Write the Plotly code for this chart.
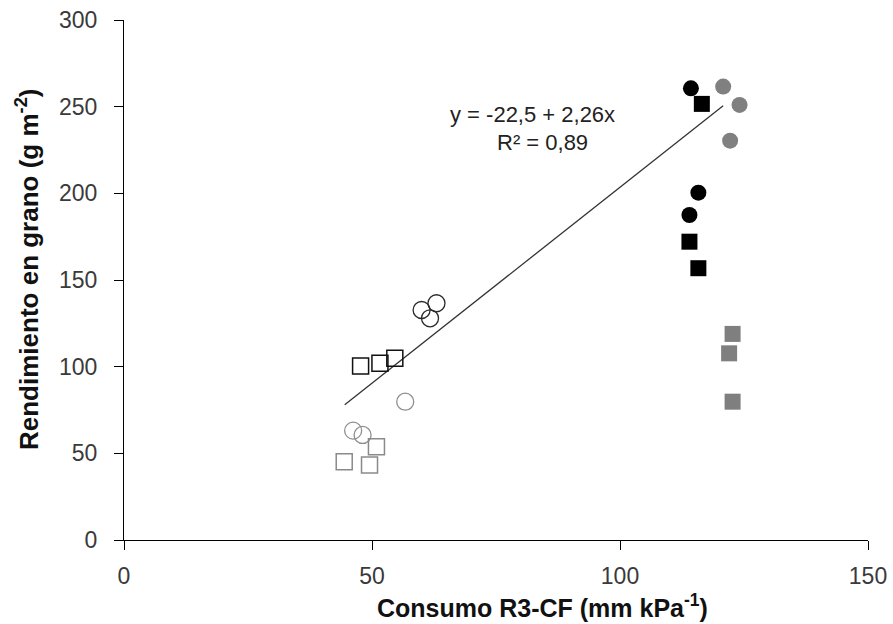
import plotly.graph_objects as go

# Consumo R3-CF (mm kPa-1) and grain yield (g m-2) by treatment group
open_black_circle_x = [60.0, 63.0, 61.7]
open_black_circle_y = [132.7, 136.6, 127.9]
open_black_square_x = [47.7, 51.6, 54.6]
open_black_square_y = [100.4, 102.0, 104.8]
open_gray_circle_x = [56.7, 46.2, 48.1]
open_gray_circle_y = [79.8, 63.1, 60.6]
open_gray_square_x = [50.9, 44.4, 49.5]
open_gray_square_y = [53.8, 45.2, 43.3]
black_circle_x = [114.3, 115.8, 114.0]
black_circle_y = [260.6, 200.4, 187.5]
black_square_x = [116.5, 114.0, 115.8]
black_square_y = [251.6, 172.1, 156.8]
gray_circle_x = [120.8, 124.1, 122.2]
gray_circle_y = [261.6, 251.0, 230.4]
gray_square_x = [122.7, 122.0, 122.7]
gray_square_y = [118.9, 107.7, 79.8]

# Linear fit y = a + b x over the observed range
fit_a, fit_b = -22.5, 2.26
fit_x = [44.5, 120.8]
fit_y = [fit_a + fit_b * v for v in fit_x]

x_ticks = [0, 50, 100, 150]
y_ticks = [0, 50, 100, 150, 200, 250, 300]

FONT = "Liberation Sans, Arial, sans-serif"
W, H = 893, 624
ML, MR, MT, MB = 124, 25, 20, 84

fig = go.Figure()


def add_group(xs, ys, symbol, size, fill, line_color, line_width):
    fig.add_trace(go.Scatter(
        x=xs, y=ys, mode="markers",
        marker=dict(symbol=symbol, size=size, color=fill,
                    line=dict(color=line_color, width=line_width)),
        showlegend=False, hoverinfo="x+y",
    ))


fig.add_trace(go.Scatter(x=fit_x, y=fit_y, mode="lines",
                         line=dict(color="#333333", width=1.3),
                         showlegend=False, hoverinfo="skip"))

add_group(open_black_circle_x, open_black_circle_y, "circle-open", 17, "#2a2a2a", "#2a2a2a", 1.3)
add_group(open_black_square_x, open_black_square_y, "square-open", 16, "#111111", "#111111", 1.5)
add_group(open_gray_circle_x, open_gray_circle_y, "circle-open", 17, "#8f8f8f", "#8f8f8f", 1.3)
add_group(open_gray_square_x, open_gray_square_y, "square-open", 16, "#8a8a8a", "#8a8a8a", 1.5)
add_group(black_circle_x, black_circle_y, "circle", 16, "#000000", "#000000", 0)
add_group(black_square_x, black_square_y, "square", 16, "#000000", "#000000", 0)
add_group(gray_circle_x, gray_circle_y, "circle", 16, "#808080", "#808080", 0)
add_group(gray_square_x, gray_square_y, "square", 16, "#7f7f7f", "#7f7f7f", 0)

# Regression equation
fig.add_annotation(x=82.3, y=245.2, xref="x", yref="y", showarrow=False,
                   xanchor="center", yanchor="middle",
                   text="y = -22,5 + 2,26x", font=dict(family=FONT, size=22, color="#222222"))
fig.add_annotation(x=84.3, y=229.1, xref="x", yref="y", showarrow=False,
                   xanchor="center", yanchor="middle",
                   text="R² = 0,89", font=dict(family=FONT, size=22, color="#222222"))

# Axis titles placed in paper space
pw, ph = W - ML - MR, H - MT - MB
fig.add_annotation(x=(542 - ML) / pw, y=(H - MB - 606) / ph, xref="paper", yref="paper",
                   xanchor="center", yanchor="middle",
                   showarrow=False, text="<b>Consumo R3-CF (mm kPa<sup>-1</sup>)</b>",
                   font=dict(family=FONT, size=25, color="#111111"))
fig.add_annotation(x=(27 - ML) / pw, y=(H - MB - 270) / ph, xref="paper", yref="paper",
                   xanchor="center", yanchor="middle",
                   showarrow=False, textangle=-90,
                   text="<b>Rendimiento en grano (g m<sup>-2</sup>)</b>",
                   font=dict(family=FONT, size=26, color="#111111"))

axis_common = dict(
    showgrid=False, zeroline=False, showline=True, linecolor="#000000", linewidth=1,
    ticks="outside", ticklen=9, tickcolor="#000000", tickwidth=1,
    tickfont=dict(family=FONT, size=23, color="#3a3a3a"), automargin=False,
)

fig.update_layout(
    width=W, height=H,
    margin=dict(l=ML, r=MR, t=MT, b=MB),
    paper_bgcolor="white", plot_bgcolor="white",
    xaxis=dict(range=[0, 150], tickvals=x_ticks, ticktext=[str(v) for v in x_ticks],
               ticklabelstandoff=6, **axis_common),
    yaxis=dict(range=[0, 300], tickvals=y_ticks, ticktext=[str(v) for v in y_ticks],
               ticklabelstandoff=12, **axis_common),
)

fig.write_html("out.html")
